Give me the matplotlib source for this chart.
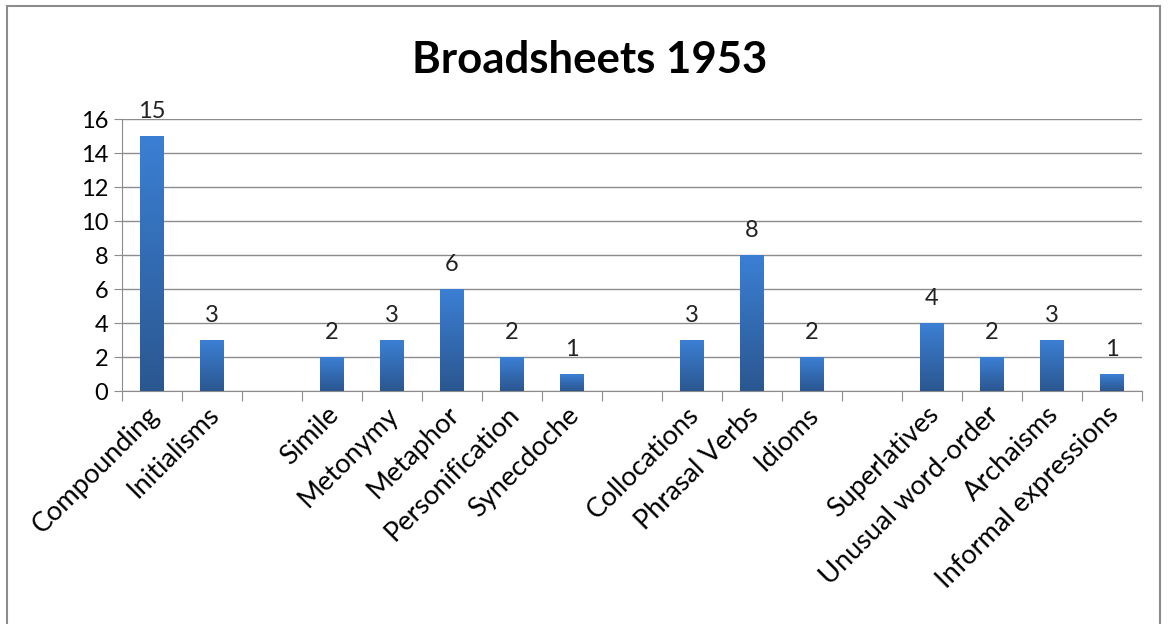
import numpy as np
import matplotlib.pyplot as plt
from matplotlib.patches import Rectangle
from matplotlib.colors import LinearSegmentedColormap

# data
kategorier = ['Compounding', 'Initialisms', '', 'Simile', 'Metonymy', 'Metaphor',
              'Personification', 'Synecdoche', '', 'Collocations', 'Phrasal Verbs',
              'Idioms', '', 'Superlatives', 'Unusual word-order', 'Archaisms',
              'Informal expressions']
verdier = [15, 3, None, 2, 3, 6, 2, 1, None, 3, 8, 2, None, 4, 2, 3, 1]
yticks = [0, 2, 4, 6, 8, 10, 12, 14, 16]

plt.rcParams['font.family'] = ['Lato', 'DejaVu Sans']

fig = plt.figure(figsize=(11.71, 6.24), dpi=100)
ax = fig.add_axes([122/1171, 1-391/624, (1142-122)/1171, (391-119)/624])

# ramme rundt figuren
fig.patches.append(Rectangle((7/1171, -0.1), (1160-7)/1171, 1.1 - 6/624,
                             transform=fig.transFigure, fill=False,
                             edgecolor='#8c8c8c', linewidth=1.5))

x = np.arange(len(kategorier))
hoyder = [v if v is not None else 0 for v in verdier]
bars = ax.bar(x, hoyder, width=0.4, color='#3468b0', zorder=3)

# gradient i søylene
grad = np.linspace(0, 1, 100).reshape(-1, 1)
cmap = LinearSegmentedColormap.from_list('g', ['#2b5790', '#3b7fd4'])
for b, v in zip(bars, verdier):
    if v is None:
        b.set_visible(False)
        continue
    bx, by = b.get_x(), b.get_y()
    im = ax.imshow(grad, cmap=cmap, origin='lower', aspect='auto',
                   extent=[bx, bx + b.get_width(), by, by + b.get_height()], zorder=4)
    im.set_clip_path(b)
    ax.annotate(str(v), (bx + b.get_width()/2, v), xytext=(0, 10),
                textcoords='offset points', ha='center', va='bottom',
                fontsize=17, color='#222222', zorder=5)

ax.set_xlim(-0.5, len(kategorier) - 0.5)
ax.set_ylim(0, 16)
ax.set_yticks(yticks)
ax.tick_params(axis='y', labelsize=17, length=6, color='#8c8c8c', pad=4)
ax.yaxis.grid(True, color='#8c8c8c', linewidth=1, zorder=0)
ax.set_axisbelow(True)

# x-akse: tick-merker mellom kategoriene
ax.set_xticks(np.arange(len(kategorier) + 1) - 0.5)
ax.set_xticklabels([])
ax.tick_params(axis='x', length=7, color='#8c8c8c', direction='out')
ax.set_xticks(x - 0.1, minor=True)
ax.set_xticklabels(kategorier, minor=True, rotation=45, ha='right',
                   rotation_mode='anchor', fontsize=19.5)
ax.tick_params(axis='x', which='minor', length=0, pad=8)

for s in ['top', 'right']:
    ax.spines[s].set_visible(False)
for s in ['left', 'bottom']:
    ax.spines[s].set_color('#8c8c8c')

fig.text(590/1171, 1-60/624, 'Broadsheets 1953', ha='center', va='center',
         fontsize=31.5, fontweight='bold')

fig.savefig('out.png', dpi=100)
